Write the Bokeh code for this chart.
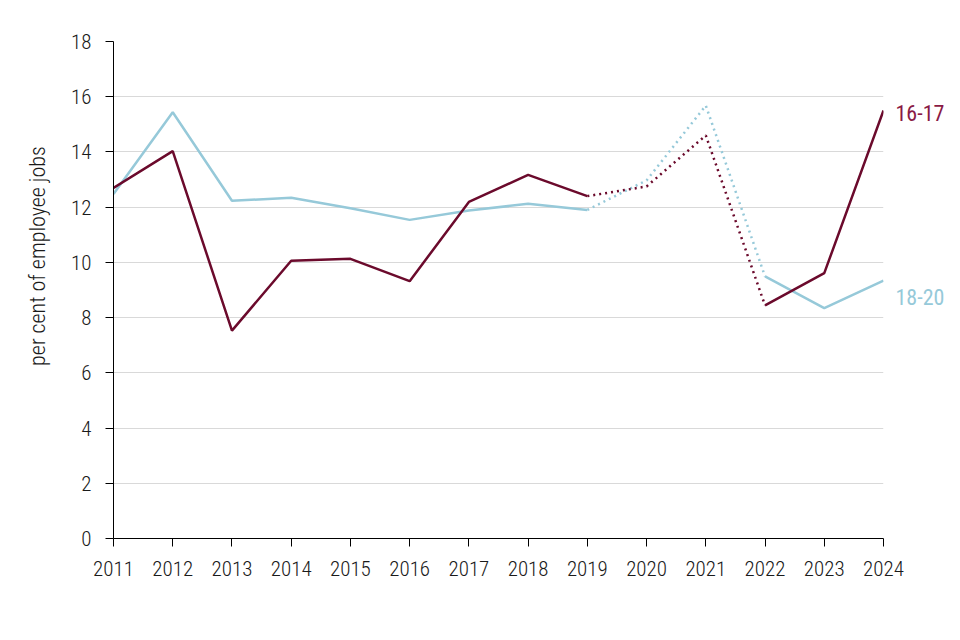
import math
from bokeh.plotting import figure
from bokeh.models import Range1d, FixedTicker
from bokeh.embed import file_html
from bokeh.resources import INLINE
from bokeh.core.properties import value

years = [2011, 2012, 2013, 2014, 2015, 2016, 2017, 2018, 2019, 2020, 2021, 2022, 2023, 2024]
age_16_17 = [12.70, 14.03, 7.53, 10.06, 10.13, 9.32, 12.19, 13.17, 12.40, 12.75, 14.60, 8.44, 9.61, 15.50]
age_18_20 = [12.48, 15.44, 12.23, 12.34, 11.96, 11.54, 11.88, 12.12, 11.90, 12.97, 15.68, 9.49, 8.34, 9.34]
y_ticks = [0, 2, 4, 6, 8, 10, 12, 14, 16, 18]
series_names = ["16-17", "18-20"]
y_title = "per cent of employee jobs"

i2019 = years.index(2019)
i2022 = years.index(2022)

FONT = "Roboto Condensed Light, Roboto Condensed, Liberation Sans Narrow, sans-serif"
FONT_B = "Roboto Condensed, Liberation Sans Narrow, sans-serif"
RED = "#6b0a2c"
RED_TXT = "#8a1a45"
BLUE = "#96c9d9"

p = figure(width=944, height=624, output_backend="svg", toolbar_location=None,
           x_range=Range1d(years[0], years[-1]), y_range=Range1d(y_ticks[0], y_ticks[-1]),
           min_border_left=113, min_border_right=61, min_border_top=41, min_border_bottom=86)
p.outline_line_color = None

for vals, col in [(age_18_20, BLUE), (age_16_17, RED)]:
    p.line(years[:i2019 + 1], vals[:i2019 + 1], line_color=col, line_width=2.5)
    p.line(years[i2019:i2022 + 1], vals[i2019:i2022 + 1], line_color=col, line_width=2.5, line_dash="2 4")
    p.line(years[i2022:], vals[i2022:], line_color=col, line_width=2.5)

p.xaxis.ticker = FixedTicker(ticks=years)
p.yaxis.ticker = FixedTicker(ticks=y_ticks)
p.xgrid.grid_line_color = None
p.ygrid.grid_line_color = "#d9d9d9"
for ax in [p.xaxis, p.yaxis]:
    ax.axis_line_color = "black"
    ax.major_tick_line_color = "black"
    ax.major_tick_out = 8
    ax.major_tick_in = 0
    ax.minor_tick_line_color = None
    ax.major_label_text_font = FONT
    ax.major_label_text_font_size = "21px"
    ax.major_label_text_color = "#1a1a1a"
p.xaxis.major_label_standoff = 14
p.yaxis.major_label_standoff = 14

# y-axis title as overlay text (placed slightly above centre, as in the reference)
p.text(x=[years[0]], y=[(y_ticks[0] + y_ticks[-1]) / 2], text=[y_title], angle=math.pi / 2,
       x_offset=-76, y_offset=-34, text_font=value(FONT), text_font_size="22px",
       text_color="#1a1a1a", text_align="center", text_baseline="middle", level="overlay")

# series labels at line ends
p.text(x=[years[-1]], y=[age_16_17[-1]], text=[series_names[0]], x_offset=12, y_offset=2,
       text_font=value(FONT_B), text_font_size="22px", text_color=RED_TXT, text_baseline="middle",
       level="overlay")
p.text(x=[years[-1]], y=[age_18_20[-1]], text=[series_names[1]], x_offset=12, y_offset=16,
       text_font=value(FONT_B), text_font_size="22px", text_color=BLUE, text_baseline="middle",
       level="overlay")

open("out.html", "w").write(file_html(p, INLINE))
